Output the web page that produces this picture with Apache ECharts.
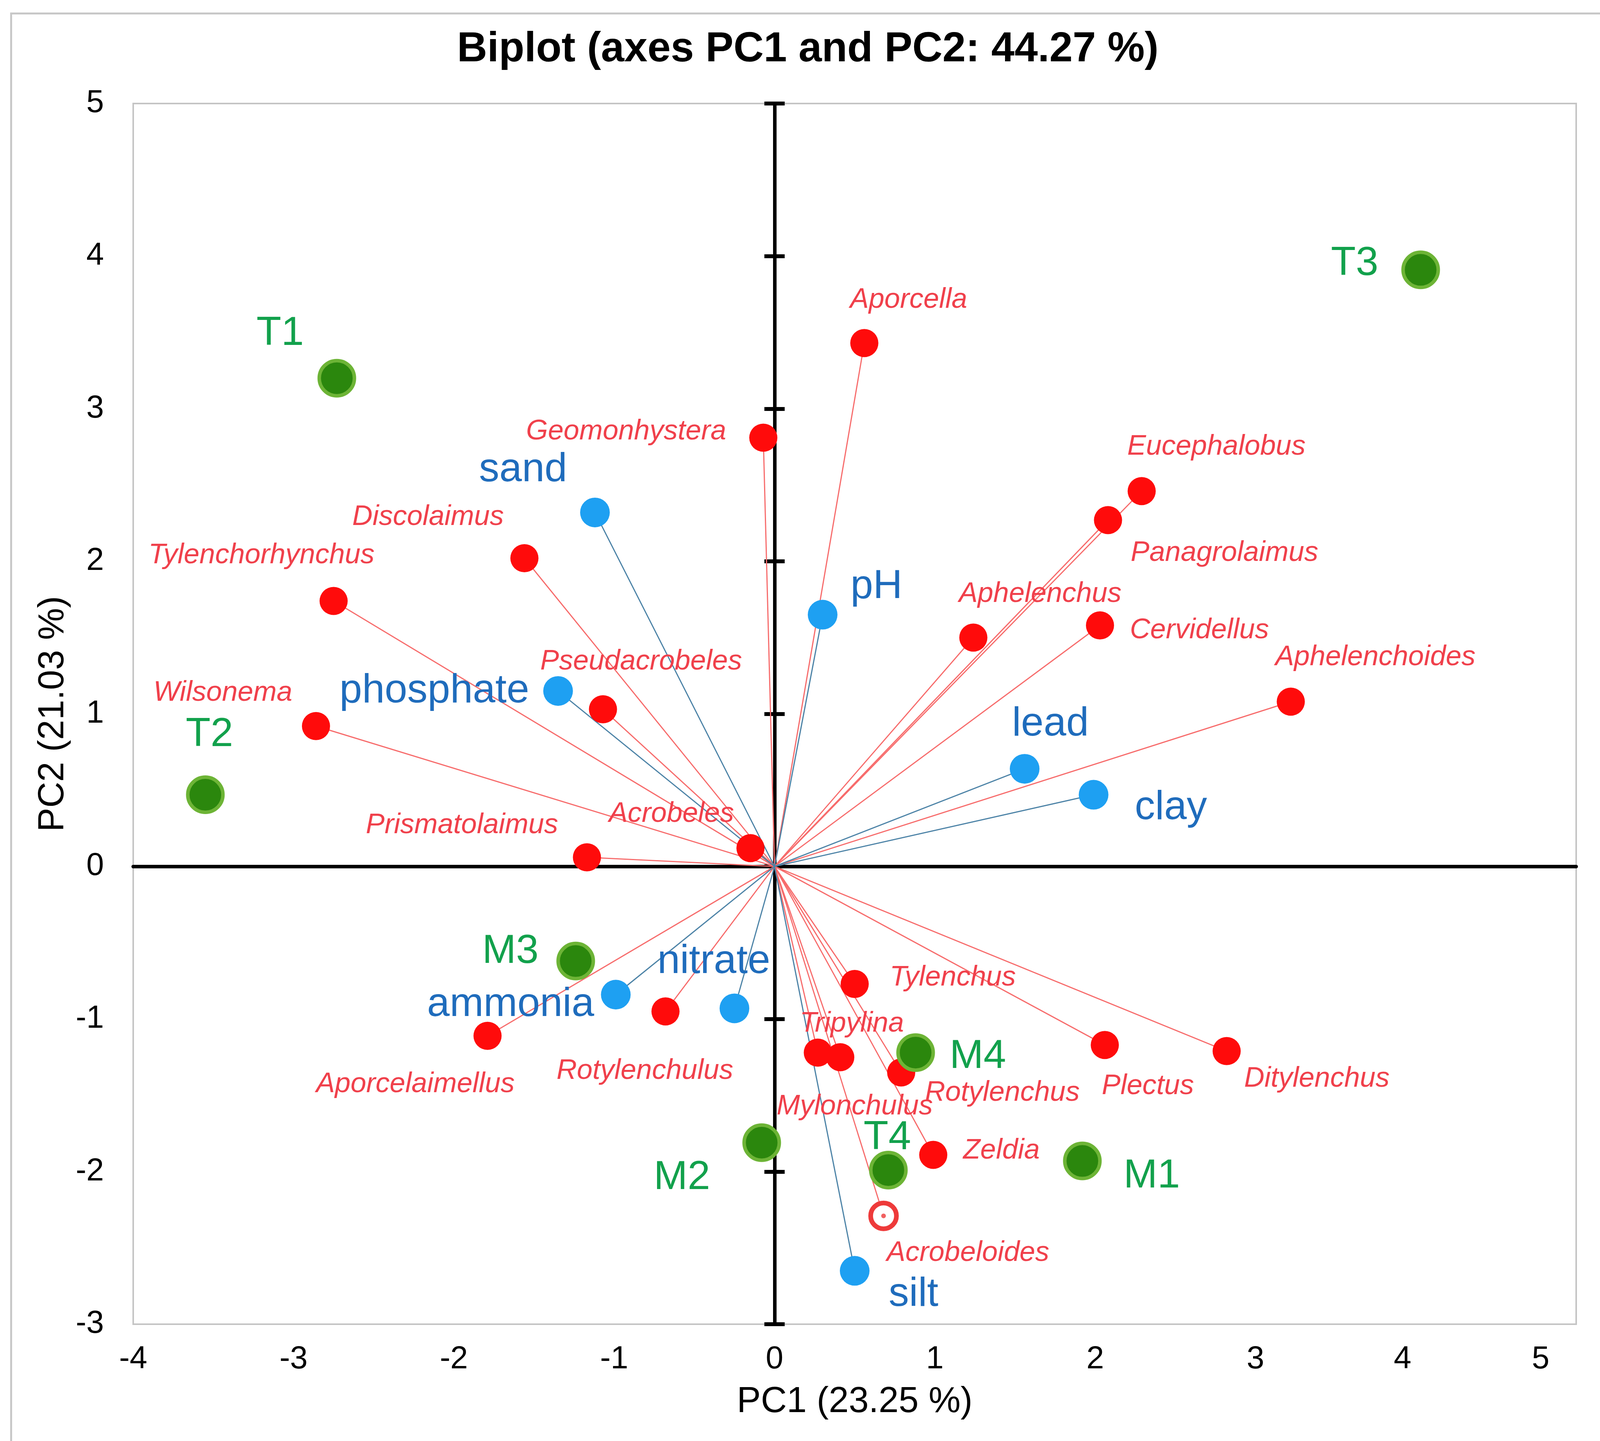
<!DOCTYPE html>
<html>
<head>
<meta charset="utf-8">
<script src="https://cdn.jsdelivr.net/npm/echarts@6/dist/echarts.min.js"></script>
<style>
  html, body { margin: 0; padding: 0; background: #fff; overflow: hidden; }
  #main { width: 4136px; height: 3689px; }
</style>
</head>
<body>
<div id="main"></div>
<script>
// sites (observations)
const siteNames = ['T1', 'T2', 'T3', 'T4', 'M1', 'M2', 'M3', 'M4'];
const siteX = [-2.73, -3.55, 4.03, 0.71, 1.92, -0.08, -1.24, 0.88];
const siteY = [3.20, 0.47, 3.91, -1.99, -1.93, -1.81, -0.62, -1.22];

// soil variables
const envNames = ['sand', 'pH', 'phosphate', 'lead', 'clay', 'nitrate', 'ammonia', 'silt'];
const envX = [-1.12, 0.30, -1.35, 1.56, 1.99, -0.25, -0.99, 0.50];
const envY = [2.32, 1.65, 1.15, 0.64, 0.47, -0.93, -0.84, -2.65];

// nematode genera
const genusNames = ['Aporcella', 'Geomonhystera', 'Eucephalobus', 'Panagrolaimus', 'Discolaimus',
  'Tylenchorhynchus', 'Aphelenchus', 'Cervidellus', 'Aphelenchoides', 'Pseudacrobeles', 'Wilsonema',
  'Prismatolaimus', 'Acrobeles', 'Tylenchus', 'Rotylenchulus', 'Aporcelaimellus', 'Tripylina',
  'Mylonchulus', 'Rotylenchus', 'Plectus', 'Ditylenchus', 'Zeldia', 'Acrobeloides'];
const genusX = [0.56, -0.07, 2.29, 2.08, -1.56, -2.75, 1.24, 2.03, 3.22, -1.07, -2.86,
  -1.17, -0.15, 0.50, -0.68, -1.79, 0.27, 0.41, 0.79, 2.06, 2.82, 0.99, 0.68];
const genusY = [3.43, 2.81, 2.46, 2.27, 2.02, 1.74, 1.50, 1.58, 1.08, 1.03, 0.92,
  0.06, 0.12, -0.77, -0.95, -1.11, -1.22, -1.25, -1.35, -1.17, -1.21, -1.89, -2.29];
const hollowGenera = ['Acrobeloides'];

const xTicks = { min: -4, max: 5, step: 1 };
const yTicks = { min: -3, max: 5, step: 1 };

// label placement relative to the marker: [dx, dy, align], in reference-screen units
const K = 2.638;
const labelPlace = {
  Aporcella: [43, -42, 'center'], Geomonhystera: [-36, -6, 'right'], Eucephalobus: [-14, -43, 'left'],
  Panagrolaimus: [22, 32, 'left'], Discolaimus: [-20, -40, 'right'], Tylenchorhynchus: [-70, -44, 'center'],
  Aphelenchus: [-14, -42, 'left'], Cervidellus: [29, 5, 'left'], Aphelenchoides: [-15, -43, 'left'],
  Pseudacrobeles: [37, -46, 'center'], Wilsonema: [-23, -32, 'right'], Prismatolaimus: [-28, -31, 'right'],
  Acrobeles: [-16, -33, 'right'], Tylenchus: [34, -6, 'left'], Rotylenchulus: [-20, 58, 'center'],
  Aporcelaimellus: [-70, 47, 'center'], Tripylina: [33, -28, 'center'], Mylonchulus: [14, 48, 'center'],
  Rotylenchus: [23, 20, 'left'], Plectus: [-3, 40, 'left'], Ditylenchus: [17, 27, 'left'],
  Zeldia: [29, -4, 'left'], Acrobeloides: [3, 36, 'left'],
  sand: [-27, -41, 'right'], pH: [27, -27, 'left'], phosphate: [-28, 0, 'right'], lead: [25, -43, 'center'],
  clay: [40, 13, 'left'], nitrate: [-20, -45, 'center'], ammonia: [-21, 10, 'right'], silt: [33, 23, 'left'],
  T1: [-32, -43, 'right'], T2: [4, -58, 'center'], T3: [-41, -6, 'right'], T4: [-1, -31, 'center'],
  M1: [40, 15, 'left'], M2: [-50, 34, 'right'], M3: [-36, -9, 'right'], M4: [33, 4, 'left']
};
// the last two x tick labels sit left of their ticks in the original
const xLabelShift = { 4: 68, 5: 182 };

const FONT = 'Liberation Sans, Arial, sans-serif';

function pointItems(names, xs, ys) {
  return names.map(function (n, i) {
    const p = labelPlace[n] || [0, 0, 'center'];
    return {
      name: n,
      value: [xs[i], ys[i]],
      label: { offset: [p[0] * K, p[1] * K], align: p[2] }
    };
  });
}

function vectorItems(xs, ys) {
  return xs.map(function (x, i) {
    return { coords: [[0, 0], [x, ys[i]]] };
  });
}

const genusItems = pointItems(genusNames, genusX, genusY).map(function (d) {
  if (hollowGenera.indexOf(d.name) >= 0) {
    d.symbolSize = 66;
    d.itemStyle = { color: '#ffffff', borderColor: '#ee3a3a', borderWidth: 12 };
  }
  return d;
});
const hollowDots = genusNames
  .map(function (n, i) { return { name: n, value: [genusX[i], genusY[i]] }; })
  .filter(function (d) { return hollowGenera.indexOf(d.name) >= 0; });

const chart = echarts.init(document.getElementById('main'), null, {
  renderer: 'canvas', width: 4136, height: 3689
});

const zeroAxisY = {
  type: 'value', min: yTicks.min, max: yTicks.max, interval: yTicks.step,
  axisLine: { show: true, onZero: true, onZeroAxisIndex: 0, lineStyle: { color: '#000', width: 9 } },
  axisTick: { show: true, length: 26, lineStyle: { color: '#000', width: 10 } },
  axisLabel: { show: false },
  splitLine: { show: false }
};

const xRich = {};
Object.keys(xLabelShift).forEach(function (k) {
  xRich['s' + k] = { fontFamily: FONT, fontSize: 81, color: '#000', padding: [0, xLabelShift[k], 0, 0] };
});

const option = {
  backgroundColor: '#ffffff',
  animation: false,
  graphic: [{
    type: 'rect',
    left: 26, top: 32,
    shape: { width: 4080, height: 3720 },
    style: { fill: 'none', stroke: '#c8c8c8', lineWidth: 5 },
    silent: true
  }, {
    type: 'text',
    x: 2068, y: 74,
    style: {
      text: 'Biplot (axes PC1 and PC2: 44.27 %)',
      textAlign: 'center', textVerticalAlign: 'top',
      fontFamily: FONT, fontSize: 107, fontWeight: 'bold', fill: '#000'
    },
    silent: true
  }],
  grid: {
    left: 341, top: 265, width: 3694, height: 3125,
    show: true, borderColor: '#c4c4c4', borderWidth: 4, backgroundColor: 'transparent'
  },
  xAxis: [{
    type: 'value', min: xTicks.min, max: xTicks.max, interval: xTicks.step, position: 'bottom',
    axisLine: { show: false, onZero: false },
    axisTick: { show: false },
    splitLine: { show: false },
    axisLabel: {
      fontFamily: FONT, fontSize: 81, color: '#000', margin: 50,
      formatter: function (v) { return xLabelShift[v] ? '{s' + v + '|' + v + '}' : String(v); },
      rich: xRich
    },
    name: 'PC1 (23.25 %)', nameLocation: 'middle', nameGap: 154,
    nameTextStyle: { fontFamily: FONT, fontSize: 92, color: '#000' }
  }, {
    type: 'value', min: xTicks.min, max: xTicks.max, interval: xTicks.step, position: 'top',
    axisLine: { show: true, onZero: true, onZeroAxisIndex: 0, lineStyle: { color: '#000', width: 9 } },
    axisTick: { show: false },
    axisLabel: { show: false },
    splitLine: { show: false }
  }],
  yAxis: [{
    type: 'value', min: yTicks.min, max: yTicks.max, interval: yTicks.step, position: 'left',
    axisLine: { show: false, onZero: false },
    axisTick: { show: false },
    splitLine: { show: false },
    axisLabel: { fontFamily: FONT, fontSize: 81, color: '#000', margin: 75 },
    name: 'PC2 (21.03 %)', nameLocation: 'middle', nameGap: 150,
    nameTextStyle: { fontFamily: FONT, fontSize: 92, color: '#000' }
  },
  Object.assign({ position: 'left' }, zeroAxisY),
  Object.assign({ position: 'right' }, zeroAxisY)],
  series: [{
    name: 'genus vectors', type: 'lines', coordinateSystem: 'cartesian2d',
    data: vectorItems(genusX, genusY),
    lineStyle: { color: '#f76b6b', width: 3, opacity: 1 },
    silent: true, z: 3
  }, {
    name: 'variable vectors', type: 'lines', coordinateSystem: 'cartesian2d',
    data: vectorItems(envX, envY),
    lineStyle: { color: '#4b82a6', width: 3, opacity: 1 },
    silent: true, z: 3
  }, {
    name: 'genera', type: 'scatter', symbolSize: 72, z: 5,
    data: genusItems,
    itemStyle: { color: '#ff0b0b', opacity: 1 },
    label: {
      show: true, position: 'inside', formatter: '{b}',
      fontFamily: FONT, fontSize: 72, fontStyle: 'italic', color: '#f0404b'
    }
  }, {
    name: 'hollow centre', type: 'scatter', symbolSize: 12, z: 6,
    data: hollowDots,
    itemStyle: { color: '#ee3a3a' },
    label: { show: false }
  }, {
    name: 'variables', type: 'scatter', symbolSize: 76, z: 5,
    data: pointItems(envNames, envX, envY),
    itemStyle: { color: '#1ea0f2', opacity: 1 },
    label: {
      show: true, position: 'inside', formatter: '{b}',
      fontFamily: FONT, fontSize: 104, color: '#1f6cbc'
    }
  }, {
    name: 'sites', type: 'scatter', symbolSize: 90, z: 5,
    data: pointItems(siteNames, siteX, siteY),
    itemStyle: { color: '#2b870d', borderColor: '#6db436', borderWidth: 9, opacity: 1 },
    label: {
      show: true, position: 'inside', formatter: '{b}',
      fontFamily: FONT, fontSize: 104, color: '#12a14c'
    }
  }]
};

chart.setOption(option);
</script>
</body>
</html>
